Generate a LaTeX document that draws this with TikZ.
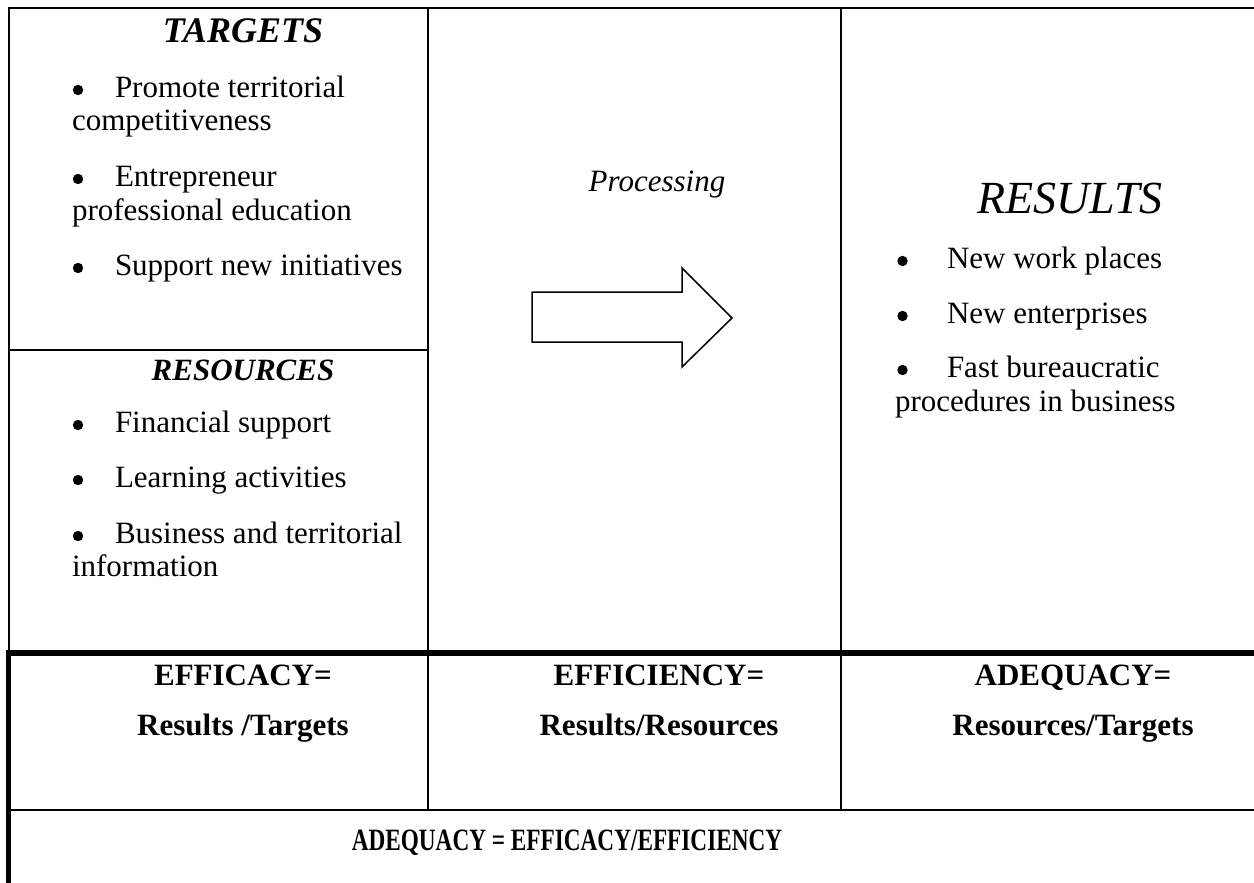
\documentclass[tikz,border=0pt]{standalone}
\usepackage{fontspec}
\usepackage{graphicx}
\setmainfont{Liberation Serif}
\begin{document}
\begin{tikzpicture}[x=1pt,y=-1pt,
  body/.style={font=\fontsize{31}{34}\selectfont, inner sep=0pt, outer sep=0pt},
  lt/.style={body, anchor=base west},
  ct/.style={body, anchor=base},
  bhead/.style={body, anchor=base, font=\fontsize{31}{34}\selectfont\bfseries\itshape},
  bold/.style={body, anchor=base, font=\fontsize{31}{34}\selectfont\bfseries},
  bul/.style={circle, fill=black, inner sep=0pt, minimum size=10.4pt},
  rule/.style={line width=2.2pt, line cap=rect},
  heavyrule/.style={line width=5.2pt},
  bigarrow/.style={line width=1.5pt, line join=miter, fill=white}
]
\useasboundingbox (0,0) rectangle (1254,883);

% ---- table rules ----
\draw[rule, line join=miter, line cap=butt] (1254,8) -- (9,8) -- (9,653);
\draw[rule] (428,8) -- (428,810);
\draw[rule] (841,8) -- (841,810);
\draw[rule] (9,350) -- (428,350);
\draw[rule, line cap=butt] (9,810) -- (1254,810);
\draw[heavyrule] (6,653) -- (1254,653);
\draw[heavyrule] (8.5,650.4) -- (8.5,883);

% ---- TARGETS ----
\node[ct, font=\fontsize{36}{40}\selectfont\bfseries\itshape] (targets) at (243,43) {TARGETS};
\node[bul] (tb1) at (78,90) {};
\node[lt] (t1a) at (115,97) {Promote territorial};
\node[lt] (t1b) at (72,131) {competitiveness};
\node[bul] (tb2) at (78,179) {};
\node[lt] (t2a) at (115,186) {Entrepreneur};
\node[lt] (t2b) at (72,220) {professional education};
\node[bul] (tb3) at (78,268) {};
\node[lt] (t3a) at (115,275) {Support new initiatives};

% ---- RESOURCES ----
\node[bhead] (resources) at (243,380) {RESOURCES};
\node[bul] (rb1) at (78,425) {};
\node[lt] (r1) at (115,432) {Financial support};
\node[bul] (rb2) at (78,480) {};
\node[lt] (r2) at (115,487) {Learning activities};
\node[bul] (rb3) at (78,536) {};
\node[lt] (r3a) at (115,543) {Business and territorial};
\node[lt] (r3b) at (72,576) {information};

% ---- Processing ----
\node[ct, font=\fontsize{31}{34}\selectfont\itshape] (proc) at (657,191) {Processing};
\draw[bigarrow] (532,292) -- (682,292) -- (682,268) -- (732,318) -- (682,367) -- (682,342) -- (532,342) -- cycle;

% ---- RESULTS ----
\node[ct, font=\fontsize{46}{50}\selectfont\itshape] (results) at (1070,213) {RESULTS};
\node[bul] (sb1) at (902.5,261) {};
\node[lt] (s1) at (947,268) {New work places};
\node[bul] (sb2) at (902.5,316) {};
\node[lt] (s2) at (947,323) {New enterprises};
\node[bul] (sb3) at (902.5,370) {};
\node[lt] (s3a) at (947,377) {Fast bureaucratic};
\node[lt] (s3b) at (895,411) {procedures in business};

% ---- bottom row ----
\node[bold] (eff1) at (243,685) {EFFICACY=};
\node[bold] (eff2) at (243,735) {Results /Targets};
\node[bold] (effi1) at (659,685) {EFFICIENCY=};
\node[bold] (effi2) at (659,735) {Results/Resources};
\node[bold] (ade1) at (1073,685) {ADEQUACY=};
\node[bold] (ade2) at (1073,735) {Resources/Targets};

\node[bold] (formula) at (567,850) {\scalebox{0.75}[1]{ADEQUACY = EFFICACY/EFFICIENCY}};
\end{tikzpicture}
\end{document}
